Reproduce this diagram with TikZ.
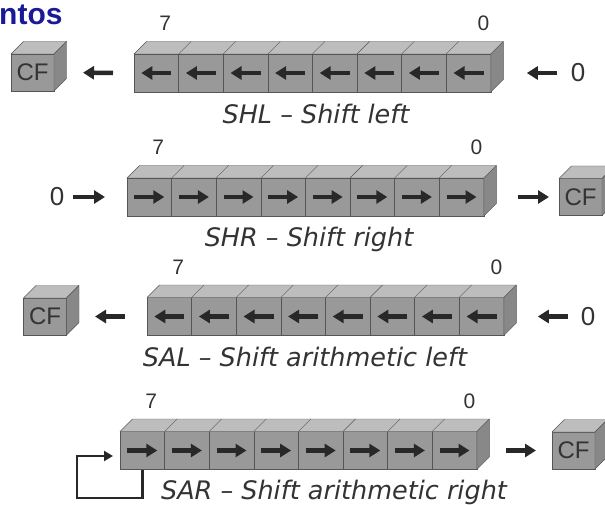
\documentclass[tikz,border=0pt]{standalone}
\usepackage{fontspec}
\setmainfont{Liberation Sans}
\newfontfamily\capfont{DejaVu Sans}
\usetikzlibrary{positioning,calc,arrows.meta}

\definecolor{frontgray}{RGB}{153,153,153}
\definecolor{topgray}{RGB}{189,189,189}
\definecolor{sidegray}{RGB}{136,136,136}
\definecolor{edgegray}{RGB}{85,85,85}
\definecolor{arrowgray}{RGB}{40,40,40}
\definecolor{textgray}{RGB}{51,51,51}
\definecolor{titleblue}{RGB}{26,26,153}

\begin{document}
\begin{tikzpicture}[x=1pt,y=-1pt]
        \tikzstyle{bit}=[draw=edgegray,fill=frontgray,minimum width=44.6pt,minimum height=38pt,inner sep=0pt,outer sep=0pt]
        \tikzstyle{cfbox}=[draw=edgegray,fill=frontgray,minimum width=43pt,minimum height=37pt,inner sep=0pt,outer sep=0pt,text=textgray,font=\fontsize{24}{24}\selectfont]
        \tikzstyle{face}=[draw=edgegray,line join=round]
        \tikzstyle{bitarrow}=[draw=arrowgray,line width=4.5pt,-{Triangle[length=11pt,width=13pt]}]
        \tikzstyle{bigarrow}=[draw=arrowgray,line width=4.5pt,-{Triangle[length=11pt,width=13pt]}]
        \tikzstyle{fbarrow}=[draw=arrowgray,line width=2.5pt,-{Triangle[length=9pt,width=10pt]}]
        \tikzstyle{bitlabel}=[inner sep=0pt,text=textgray,font=\fontsize{21}{21}\selectfont]
        \tikzstyle{zero}=[inner sep=0pt,text=textgray,font=\fontsize{26}{26}\selectfont]
        \tikzstyle{caption}=[inner sep=0pt,text=textgray,font=\capfont\itshape\fontsize{25.5}{25.5}\selectfont]

        \clip (0,0) rectangle (605,505);

        % title
        \node[anchor=base west,inner sep=0pt,text=titleblue,font=\bfseries\fontsize{30}{30}\selectfont] (title) at (-1,25) {ntos};

        % registers, bit 7 on the left
        \foreach \r/\x/\y/\u/\v in {1/134/73/15/-15, 2/127/197/-15/15, 3/147/316.5/15/-15, 4/120/450.5/-15/15} {
            \node[bit] (r\r b7) at (\x+22.3,\y) {};
            \foreach \b [evaluate=\b as \p using int(\b+1)] in {6,5,...,0}
                \node[bit,right=0pt of r\r b\p] (r\r b\b) {};
            \filldraw[face,fill=topgray] (r\r b7.north west) -- (r\r b0.north east) -- ++(12.5,-12.5)
                -- ($(r\r b7.north west)+(12.5,-12.5)$) -- cycle;
            \foreach \b in {6,5,...,0}
                \draw[face] (r\r b\b.north west) -- ++(12.5,-12.5);
            \filldraw[face,fill=sidegray] (r\r b0.north east) -- ++(12.5,-12.5) -- ++(0,38) -- (r\r b0.south east) -- cycle;
            \foreach \b in {7,6,...,0}
                \draw[bitarrow] ([xshift=\u pt]r\r b\b.center) -- ([xshift=\v pt]r\r b\b.center);
            \node[bitlabel] (r\r l7) at ($(r\r b7.north)+(9,-30.5)$) {7};
            \node[bitlabel] (r\r l0) at ($(r\r b0.north)+(15,-30.5)$) {0};
        }

        % carry flags
        \node[cfbox] (cf1) at (32.5,72.5) {CF};
        \node[cfbox] (cf2) at (580.5,197) {CF};
        \node[cfbox] (cf3) at (45,316.5) {CF};
        \node[cfbox] (cf4) at (573.5,450.5) {CF};
        \foreach \c in {cf1,cf2,cf3,cf4} {
            \filldraw[face,fill=topgray] (\c.north west) -- (\c.north east) -- ++(12.5,-12.5)
                -- ($(\c.north west)+(12.5,-12.5)$) -- cycle;
            \filldraw[face,fill=sidegray] (\c.north east) -- ++(12.5,-12.5) -- ++(0,37) -- (\c.south east) -- cycle;
        }

        % incoming zeros
        \node[zero] (zero1) at (578,73) {0};
        \node[zero] (zero2) at (57,197) {0};
        \node[zero] (zero3) at (588,316.5) {0};

        % SHL
        \draw[bigarrow,shorten <=21pt,shorten >=29pt] (r1b7.west) -- (cf1.east);
        \draw[bigarrow,shorten <=14pt,shorten >=36pt] (zero1.west) -- (r1b0.east);
        \node[caption] (cap1) at (316,114) {SHL – Shift left};

        % SHR
        \draw[bigarrow,shorten <=9pt,shorten >=22pt] (zero2.east) -- (r2b7.west);
        \draw[bigarrow,shorten <=34pt,shorten >=10pt] (r2b0.east) -- (cf2.west);
        \node[caption] (cap2) at (309,239) {SHR – Shift right};

        % SAL
        \draw[bigarrow,shorten <=22pt,shorten >=28.5pt] (r3b7.west) -- (cf3.east);
        \draw[bigarrow,shorten <=13pt,shorten >=34pt] (zero3.west) -- (r3b0.east);
        \node[caption] (cap3) at (305,357) {SAL – Shift arithmetic left};

        % SAR
        \draw[bigarrow,shorten <=29pt,shorten >=16pt] (r4b0.east) -- (cf4.west);
        \coordinate (fbcorner) at (77,498);
        \draw[fbarrow] (r4b7.south) |- (fbcorner) |- ([xshift=-7pt,yshift=-5.5pt]r4b7.west);
        \node[caption] (cap4) at (334,492) {SAR – Shift arithmetic right};

\end{tikzpicture}
\end{document}
